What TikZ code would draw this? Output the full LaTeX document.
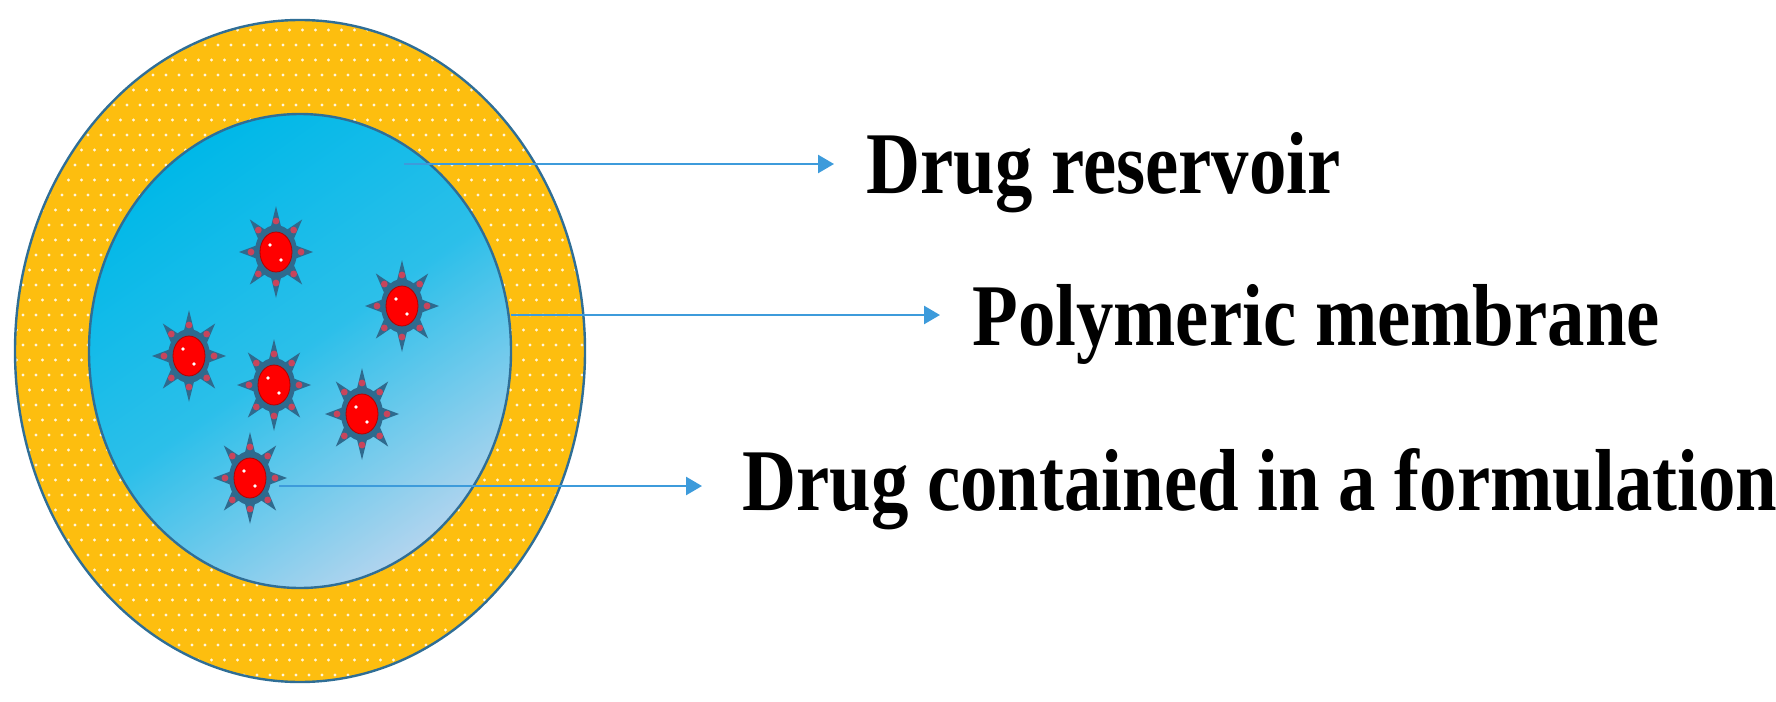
\documentclass[tikz,border=0pt]{standalone}
\usepackage{fontspec}
\setmainfont{Liberation Serif}
\usetikzlibrary{arrows.meta}
\definecolor{yel}{HTML}{FDBE0F}
\definecolor{rim}{HTML}{2F6E96}
\definecolor{cyanA}{HTML}{00B8E8}
\definecolor{cyanB}{HTML}{B0D4EE}
\definecolor{starc}{HTML}{2E6A8E}
\definecolor{spot}{HTML}{C8455C}
\definecolor{arr}{HTML}{3D9BDB}
\tikzset{
  conn/.style={draw=arr,line width=1.3pt,-{Triangle[length=8pt,width=9pt]}},
  lbl/.style={font=\bfseries\fontsize{44}{50}\selectfont,xscale=0.85,anchor=base west,inner sep=0pt}
}
\begin{document}
\begin{tikzpicture}[x=0.5pt,y=-0.5pt]
\useasboundingbox (0,0) rectangle (1776,701);
% outer membrane
\fill[yel] (300,351) ellipse [x radius=285,y radius=331];
\begin{scope}
\clip (300,351) ellipse [x radius=285,y radius=331];
\foreach \j in {0,...,46}{
  \pgfmathsetmacro{\off}{mod(\j,2)*6.5}
  \foreach \i in {0,...,46}{
    \fill[white,opacity=0.85] (10+\i*13+\off,15+\j*15) circle (1.7);
  }
}
\end{scope}
\draw[rim,line width=1.2pt] (300,351) ellipse [x radius=285,y radius=331];
% reservoir
\shade[top color=cyanA,bottom color=cyanB,shading angle=35,middle color=cyanA!75!cyanB]
  (300,351) ellipse [x radius=211,y radius=237];
\draw[rim,line width=1.2pt] (300,351) ellipse [x radius=211,y radius=237];
% drug particles
\foreach \cx/\cy [count=\k] in {276/252,402/306,189/356,274/385,362/414,250/478}{
  \begin{scope}[shift={(\cx,\cy)}]
    \fill[starc] (0,-46)
      \foreach \a in {0,...,7}{ -- ({cos(90+\a*45+22.5)*17},{-sin(90+\a*45+22.5)*21}) -- ({cos(90+\a*45+45)*37},{-sin(90+\a*45+45)*46}) } -- cycle;
    \fill[starc] (0,0) ellipse [x radius=21,y radius=27];
    \foreach \a in {0,...,7}{
      \fill[spot] ({cos(90+\a*45)*25},{sin(90+\a*45)*31}) circle (3.4);
    }
    \fill[red,draw=red!70!black,line width=0.4pt] (0,0) ellipse [x radius=16,y radius=20];
    \fill[white] (-6,-7) circle (1.9);
    \fill[white] (5,8) circle (1.9);
  \end{scope}
}
% labels
\coordinate (s1) at (404,164);
\coordinate (s2) at (511,315);
\coordinate (s3) at (279,486);
\node[lbl] (t1) at (866,193) {Drug reservoir};
\node[lbl] (t2) at (972,345) {Polymeric membrane};
\node[lbl] (t3) at (742,510) {Drug contained in a formulation};
\coordinate (e1) at (834,164);
\coordinate (e2) at (940,315);
\coordinate (e3) at (702,486);
\draw[conn] (s1) -- (e1);
\draw[conn] (s2) -- (e2);
\draw[conn] (s3) -- (e3);
\end{tikzpicture}
\end{document}
